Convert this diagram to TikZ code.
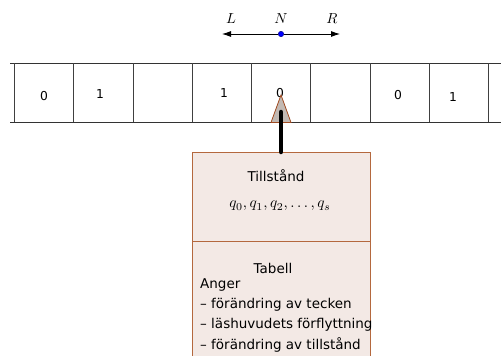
\documentclass[tikz,border=0pt]{standalone}
\usepackage{graphicx}
\usepackage{fontspec}
\setsansfont{DejaVu Sans}
\usetikzlibrary{arrows.meta}
\definecolor{boxfill}{HTML}{F3E9E5}
\definecolor{boxline}{HTML}{B4683E}
\definecolor{headfill}{HTML}{C2B9B3}
\definecolor{headline}{HTML}{A04A20}
\newcommand{\bigmath}[2][1.4]{\scalebox{#1}{$#2$}}
\tikzset{
  cellline/.style={line width=0.9pt, black!75},
  tapeline/.style={line width=0.9pt, black!80},
  digit/.style={font=\sffamily\fontsize{12.3}{13}\selectfont, inner sep=0pt},
  boxtext/.style={font=\sffamily\fontsize{13.5}{14}\selectfont, inner sep=0pt},
  mathlabel/.style={font=\normalsize, inner sep=0pt},
  panel/.style={draw=boxline, fill=boxfill, line width=0.9pt},
}
\begin{document}
\begin{tikzpicture}[x=1pt,y=-1pt]
\useasboundingbox (0,0) rectangle (501,356);
% direction indicator
\coordinate (lend) at (222,34);
\coordinate (rend) at (340,34);
\node[circle, fill=blue, draw=blue!50!black, inner sep=0pt, minimum size=5.5pt] (n) at (281,34) {};
\draw[line width=0.8pt, -{Latex[length=9pt,width=6pt]}] (n) -- (lend);
\draw[line width=0.8pt, -{Latex[length=9pt,width=6pt]}] (n) -- (rend);
\node[mathlabel] (lL) at (231,19) {\bigmath[1.45]{L}};
\node[mathlabel] (lN) at (281,19) {\bigmath[1.45]{N}};
\node[mathlabel] (lR) at (332,19) {\bigmath[1.45]{R}};
% tape
\coordinate (tl) at (10,63);
\coordinate (tr) at (501,63);
\coordinate (bl) at (10,122);
\coordinate (br) at (501,122);
\draw[tapeline] (tl) -- (tr);
\draw[tapeline] (bl) -- (br);
\foreach \xx in {14,73,133,192,251,310,370,429,488}{
  \draw[cellline] (\xx,63) -- (\xx,122);
}
\node[digit] (c1) at (44,96) {0};
\node[digit] (c2) at (100,94) {1};
\node[digit] (c4) at (224,93) {1};
\node[digit] (c5) at (280,93) {0};
\node[digit] (c7) at (398,95) {0};
\node[digit] (c8) at (453,97) {1};
% control box
\draw[panel] (192,152) rectangle (370,241);
\draw[panel] (192,241) rectangle (370,360);
\coordinate (boxtop) at (281,152);
\coordinate (shafttop) at (281,112);
\draw[draw=headline, fill=headfill, line width=0.8pt] (271,122.5) -- (281,95) -- (291,122.5) -- cycle;
\draw[line width=4.5pt, line cap=round] (boxtop) -- (shafttop);
\node[boxtext] (till) at (276,176) {Tillstånd};
\node[mathlabel] (qs) at (280,206) {\bigmath[1.52]{q_0, q_1, q_2, \ldots, q_s}};
\node[boxtext] (tab) at (273,268) {Tabell};
\node[boxtext, anchor=west] (anger) at (200,285) {Anger};
\node[boxtext, anchor=west] (l1) at (200,305) {– förändring av tecken};
\node[boxtext, anchor=west] (l2) at (200,325) {– läshuvudets förflyttning};
\node[boxtext, anchor=west] (l3) at (200,345) {– förändring av tillstånd};
\end{tikzpicture}
\end{document}
